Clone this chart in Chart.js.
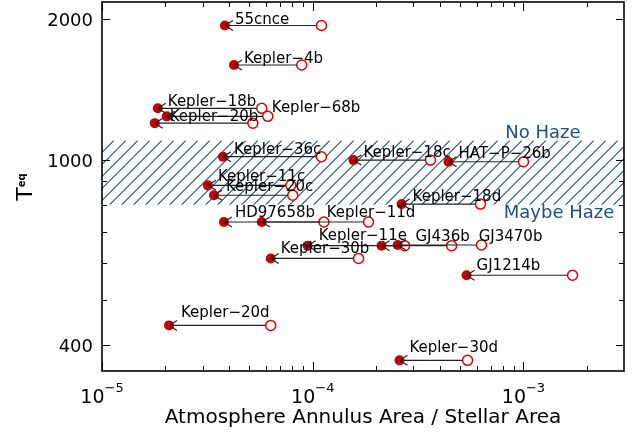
<!DOCTYPE html>
<html>
<head>
<meta charset="utf-8">
<script src="https://cdn.jsdelivr.net/npm/chart.js@4.4.0/dist/chart.umd.min.js"></script>
<style>
  html, body { margin: 0; padding: 0; background: #fff; }
  #wrap { width: 641px; height: 432px; }
</style>
</head>
<body>
<div id="wrap"><canvas id="haze-chart" width="641" height="432"></canvas></div>
<script>
// Planets, equilibrium temperature and annulus area (filled = with haze, open = clear)
const planetNames = ["55cnce", "Kepler\u22124b", "Kepler\u221218b", "Kepler\u221268b", "Kepler\u221220b",
  "Kepler\u221236c", "Kepler\u221218c", "HAT\u2212P\u221226b", "Kepler\u221211c", "Kepler\u221220c",
  "HD97658b", "Kepler\u221211d", "Kepler\u221218d", "Kepler\u221211e", "GJ436b", "GJ3470b",
  "Kepler\u221230b", "GJ1214b", "Kepler\u221220d", "Kepler\u221230d"];
const teqValues = [1941, 1597, 1289, 1239, 1198, 1015, 998, 990, 881, 839,
  735, 735, 803, 654, 654, 656, 614, 565, 441, 371];
const areaFilled = [3.83e-5, 4.23e-5, 1.84e-5, 2.03e-5, 1.78e-5, 3.75e-5, 1.56e-4, 4.41e-4, 3.18e-5, 3.40e-5,
  3.79e-5, 5.73e-5, 2.64e-4, 9.46e-5, 2.12e-4, 2.53e-4, 6.32e-5, 5.37e-4, 2.08e-5, 2.58e-4];
const areaOpen = [1.10e-4, 8.87e-5, 5.73e-5, 6.12e-5, 5.20e-5, 1.10e-4, 3.62e-4, 1.0e-3, 7.87e-5, 8.04e-5,
  1.13e-4, 1.84e-4, 6.25e-4, 2.73e-4, 4.56e-4, 6.32e-4, 1.65e-4, 1.71e-3, 6.32e-5, 5.43e-4];

// label placement relative to the filled dot (pixels)
const labelOffsets = [[10, -5], [10, -6], [10, -6], [105, -8], [15, -6], [11, -7], [10, -7], [10, -8], [10, -8], [12, -8],
  [11, -9], [65, -9], [11, -7], [11, -10], [34, -9], [81, -8], [10, -9], [10, -9], [12, -12], [10, -12]];

// axes
const xMajorTicks = [1e-5, 1e-4, 1e-3];
const xMajorExp = ["\u22125", "\u22124", "\u22123"];
const xMinorTicks = [2e-5, 3e-5, 4e-5, 5e-5, 6e-5, 7e-5, 8e-5, 9e-5,
  2e-4, 3e-4, 4e-4, 5e-4, 6e-4, 7e-4, 8e-4, 9e-4, 2e-3];
const yMajorTicks = [400, 1000, 2000];
const yMinorTicks = [500, 600, 700, 800, 900];
const hazeBand = [800, 1100];

const FONT = "'DejaVu Sans', sans-serif";
const HAZE_BLUE = "#1b5083";

function pairs(xs) {
  return xs.map((v, i) => ({ x: v, y: teqValues[i] }));
}

// diagonal hatching for the transition band
const hatchPlugin = {
  id: "hatch",
  beforeDatasetsDraw(chart) {
    const { ctx, chartArea: a, scales } = chart;
    const top = scales.y.getPixelForValue(hazeBand[1]);
    const bot = scales.y.getPixelForValue(hazeBand[0]);
    const h = bot - top;
    ctx.save();
    ctx.beginPath();
    ctx.rect(a.left, top, a.right - a.left, h);
    ctx.clip();
    ctx.strokeStyle = HAZE_BLUE;
    ctx.lineWidth = 1.1;
    ctx.beginPath();
    for (let k = a.left - h; k < a.right + 12; k += 12) {
      ctx.moveTo(k, bot);
      ctx.lineTo(k + h, top);
    }
    ctx.stroke();
    ctx.restore();
  },
};

// arrows, frame, ticks and all text
const decorPlugin = {
  id: "decor",
  afterDatasetsDraw(chart) {
    const { ctx, scales } = chart;
    const xs = scales.x, ys = scales.y;
    ctx.save();
    ctx.strokeStyle = "#222";
    ctx.lineWidth = 1.2;
    for (let i = 0; i < planetNames.length; i++) {
      const fx = xs.getPixelForValue(areaFilled[i]);
      const ox = xs.getPixelForValue(areaOpen[i]);
      const y = ys.getPixelForValue(teqValues[i]);
      ctx.beginPath();
      ctx.moveTo(fx, y);
      ctx.lineTo(ox - 5, y);
      ctx.moveTo(fx + 8, y - 5);
      ctx.lineTo(fx, y);
      ctx.lineTo(fx + 8, y + 5);
      ctx.stroke();
    }
    // planet labels
    ctx.fillStyle = "#000";
    ctx.font = "15px " + FONT;
    ctx.textAlign = "left";
    ctx.textBaseline = "middle";
    for (let i = 0; i < planetNames.length; i++) {
      const fx = xs.getPixelForValue(areaFilled[i]);
      const y = ys.getPixelForValue(teqValues[i]);
      ctx.fillText(planetNames[i], fx + labelOffsets[i][0], y + labelOffsets[i][1]);
    }
    ctx.restore();
  },
  afterDraw(chart) {
    const { ctx, chartArea: a, scales } = chart;
    const xs = scales.x, ys = scales.y;
    ctx.save();
    ctx.strokeStyle = "#000";
    ctx.lineWidth = 1.6;
    ctx.strokeRect(a.left, a.top, a.right - a.left, a.bottom - a.top);

    ctx.lineWidth = 1;
    ctx.beginPath();
    const xTick = (v, len) => {
      const px = Math.round(xs.getPixelForValue(v)) + 0.5;
      ctx.moveTo(px, a.bottom); ctx.lineTo(px, a.bottom - len);
      ctx.moveTo(px, a.top); ctx.lineTo(px, a.top + len);
    };
    const yTick = (v, len) => {
      const py = Math.round(ys.getPixelForValue(v)) + 0.5;
      ctx.moveTo(a.left, py); ctx.lineTo(a.left + len, py);
      ctx.moveTo(a.right, py); ctx.lineTo(a.right - len, py);
    };
    xMajorTicks.forEach(v => xTick(v, 9));
    xMinorTicks.forEach(v => xTick(v, 5));
    yMajorTicks.forEach(v => yTick(v, 8));
    yMinorTicks.forEach(v => yTick(v, 5));
    ctx.stroke();

    // tick labels
    ctx.fillStyle = "#000";
    ctx.textBaseline = "alphabetic";
    ctx.font = "18px " + FONT;
    ctx.textAlign = "right";
    yMajorTicks.forEach(v => {
      ctx.fillText(String(v), a.left - 9, ys.getPixelForValue(v) + 7);
    });
    xMajorTicks.forEach((v, i) => {
      const px = xs.getPixelForValue(v);
      ctx.font = "19px " + FONT;
      const w1 = ctx.measureText("10").width;
      ctx.font = "13px " + FONT;
      const w2 = ctx.measureText(xMajorExp[i]).width;
      const left = px - (w1 + w2) / 2;
      ctx.textAlign = "left";
      ctx.font = "19px " + FONT;
      ctx.fillText("10", left, 403);
      ctx.font = "13px " + FONT;
      ctx.fillText(xMajorExp[i], left + w1, 392);
    });

    // axis titles
    ctx.textAlign = "center";
    ctx.font = "20px " + FONT;
    ctx.fillText("Atmosphere Annulus Area / Stellar Area", (a.left + a.right) / 2, 423);

    ctx.save();
    ctx.translate(32, 187);
    ctx.rotate(-Math.PI / 2);
    ctx.textAlign = "left";
    ctx.font = "22px " + FONT;
    const tw = ctx.measureText("T").width;
    ctx.font = "bold 10px " + FONT;
    const ew = ctx.measureText("eq").width;
    ctx.font = "22px " + FONT;
    ctx.fillText("T", -(tw + ew) / 2, 0);
    ctx.font = "bold 10px " + FONT;
    ctx.fillText("eq", -(tw + ew) / 2 + tw, -7);
    ctx.restore();

    // band captions
    ctx.fillStyle = HAZE_BLUE;
    ctx.font = "18px " + FONT;
    ctx.textAlign = "center";
    ctx.textBaseline = "middle";
    ctx.fillText("No Haze", 543, 133);
    ctx.fillText("Maybe Haze", 559, 213);
    ctx.restore();
  },
};

function createChart() {
  const ctx = document.getElementById("haze-chart").getContext("2d");
  new Chart(ctx, {
    type: "scatter",
    data: {
      datasets: [
        {
          label: "clear",
          data: pairs(areaOpen),
          pointRadius: 5,
          pointBackgroundColor: "#fff",
          pointBorderColor: "#e00000",
          pointBorderWidth: 1.5,
          order: 2,
        },
        {
          label: "hazy",
          data: pairs(areaFilled),
          pointRadius: 5,
          pointBackgroundColor: "#c80000",
          pointBorderColor: "#c80000",
          pointBorderWidth: 0,
          order: 1,
        },
      ],
    },
    options: {
      responsive: false,
      animation: false,
      events: [],
      layout: { autoPadding: false, padding: { top: 2, right: 17, left: 0, bottom: 0 } },
      plugins: { legend: { display: false }, tooltip: { enabled: false } },
      scales: {
        x: {
          type: "logarithmic",
          min: 1e-5,
          max: 3e-3,
          grid: { display: false },
          border: { display: false },
          ticks: { display: false },
          afterFit: s => { s.height = 61; },
        },
        y: {
          type: "logarithmic",
          min: 352,
          max: 2180,
          grid: { display: false },
          border: { display: false },
          ticks: { display: false },
          afterFit: s => { s.width = 102; },
        },
      },
    },
    plugins: [hatchPlugin, decorPlugin],
  });
}

document.addEventListener("DOMContentLoaded", function () {
  createChart();
});
</script>
</body>
</html>
